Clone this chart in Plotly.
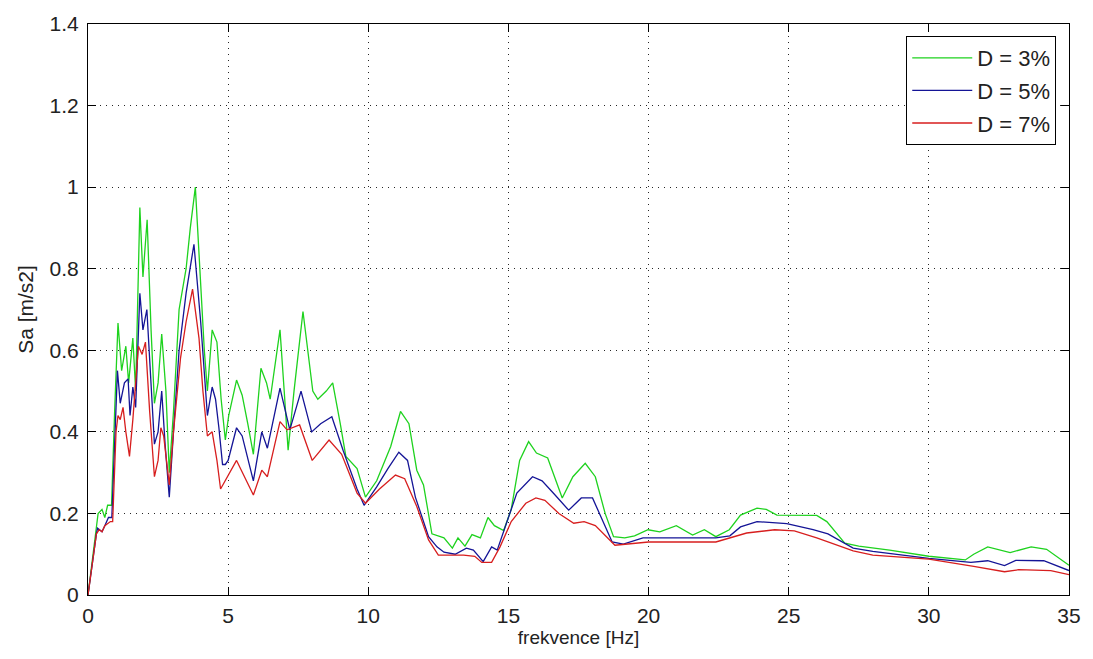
import plotly.graph_objects as go

# D = 3 %
freq_d3 = [0, 0.15, 0.3, 0.36, 0.5, 0.6, 0.7, 0.84, 0.95, 1.07, 1.2, 1.35, 1.45, 1.6, 1.7, 1.85, 1.96, 2.11,
           2.25, 2.37, 2.5, 2.63, 2.78, 2.9, 3.05, 3.25, 3.5, 3.65, 3.83, 4.0, 4.15, 4.26, 4.43, 4.6, 4.75,
           4.9, 5.02, 5.3, 5.5, 5.7, 5.9, 6.17, 6.37, 6.5, 6.85, 7.0, 7.14, 7.35, 7.67, 8.02, 8.2, 8.5,
           8.73, 9.0, 9.2, 9.6, 9.9, 10.3, 10.8, 11.15, 11.45, 11.73, 11.97, 12.27, 12.7, 13.0, 13.2,
           13.45, 13.7, 14.0, 14.27, 14.5, 14.83, 15.1, 15.4, 15.72, 16.0, 16.4, 16.92, 17.3, 17.74,
           18.1, 18.45, 18.75, 19.15, 19.5, 19.98, 20.4, 20.99, 21.57, 21.99, 22.4, 22.88, 23.28, 23.87,
           24.2, 24.58, 26.0, 26.36, 27.0, 27.5, 28.6, 30.0, 31.3, 31.6, 32.1, 32.9, 33.65, 34.2, 35.0]
sa_d3 = [0, 0.08, 0.17, 0.20, 0.21, 0.19, 0.22, 0.22, 0.45, 0.667, 0.55, 0.61, 0.52, 0.63, 0.5, 0.95, 0.78,
         0.92, 0.65, 0.47, 0.52, 0.64, 0.5, 0.30, 0.45, 0.70, 0.80, 0.90, 1.0, 0.78, 0.6, 0.50, 0.65, 0.62,
         0.48, 0.38, 0.44, 0.527, 0.49, 0.42, 0.345, 0.556, 0.52, 0.48, 0.65, 0.5, 0.355, 0.5, 0.695, 0.50,
         0.48, 0.5, 0.52, 0.42, 0.34, 0.31, 0.24, 0.28, 0.364, 0.45, 0.42, 0.306, 0.27, 0.15, 0.14, 0.115,
         0.14, 0.12, 0.148, 0.14, 0.19, 0.17, 0.158, 0.21, 0.33, 0.376, 0.348, 0.336, 0.238, 0.29, 0.323,
         0.29, 0.2, 0.143, 0.14, 0.145, 0.16, 0.155, 0.17, 0.147, 0.16, 0.143, 0.16, 0.196, 0.213, 0.21,
         0.196, 0.195, 0.18, 0.127, 0.12, 0.11, 0.095, 0.086, 0.10, 0.118, 0.104, 0.118, 0.112, 0.073]

# D = 5 %
freq_d5 = [0, 0.15, 0.3, 0.34, 0.5, 0.6, 0.73, 0.85, 0.95, 1.05, 1.15, 1.3, 1.43, 1.5, 1.6, 1.7, 1.85, 1.96,
           2.1, 2.25, 2.37, 2.5, 2.63, 2.75, 2.9, 3.05, 3.25, 3.5, 3.78, 4.02, 4.15, 4.26, 4.43, 4.55, 4.67,
           4.8, 4.9, 5.0, 5.3, 5.5, 5.9, 6.2, 6.4, 6.85, 7.2, 7.6, 7.98, 8.3, 8.7, 9.1, 9.6, 9.85, 10.3,
           10.7, 11.09, 11.4, 11.68, 12.15, 12.45, 12.7, 13.1, 13.5, 13.75, 14.1, 14.4, 14.6, 14.97, 15.3,
           15.86, 16.2, 16.6, 17.15, 17.6, 18.0, 18.7, 19.1, 19.8, 22.4, 22.9, 23.28, 23.87, 24.93, 25.87,
           26.4, 27.3, 28.0, 30.0, 31.5, 32.1, 32.7, 33.1, 34.1, 35.0]
sa_d5 = [0, 0.08, 0.15, 0.164, 0.155, 0.17, 0.19, 0.19, 0.38, 0.55, 0.47, 0.52, 0.53, 0.44, 0.51, 0.46, 0.74,
         0.65, 0.70, 0.5, 0.37, 0.40, 0.50, 0.37, 0.24, 0.40, 0.60, 0.74, 0.86, 0.67, 0.55, 0.44, 0.51, 0.48,
         0.41, 0.32, 0.32, 0.33, 0.41, 0.39, 0.28, 0.40, 0.36, 0.507, 0.405, 0.50, 0.40, 0.42, 0.437, 0.355,
         0.26, 0.22, 0.265, 0.31, 0.35, 0.33, 0.24, 0.143, 0.118, 0.105, 0.1, 0.115, 0.11, 0.082, 0.118,
         0.11, 0.184, 0.25, 0.29, 0.28, 0.25, 0.208, 0.238, 0.238, 0.13, 0.125, 0.14, 0.14, 0.145, 0.167,
         0.18, 0.175, 0.16, 0.15, 0.115, 0.107, 0.09, 0.08, 0.084, 0.072, 0.085, 0.084, 0.06]

# D = 7 %
freq_d7 = [0, 0.15, 0.3, 0.4, 0.5, 0.6, 0.8, 0.88, 1.0, 1.07, 1.15, 1.25, 1.35, 1.48, 1.6, 1.8, 1.93, 2.05,
           2.2, 2.37, 2.5, 2.6, 2.7, 2.9, 3.05, 3.3, 3.5, 3.73, 3.96, 4.1, 4.26, 4.43, 4.6, 4.73, 4.9, 5.3,
           5.9, 6.2, 6.4, 6.85, 7.1, 7.55, 8.0, 8.6, 9.05, 9.6, 9.9, 10.4, 10.97, 11.3, 11.73, 12.15, 12.5,
           13.4, 13.8, 14.05, 14.4, 14.7, 15.1, 15.62, 15.98, 16.3, 16.8, 17.33, 17.7, 18.1, 18.8, 19.2,
           20.0, 22.4, 22.9, 23.5, 24.5, 25.2, 26.0, 27.3, 28.0, 30.0, 31.6, 32.7, 33.2, 34.35, 35.0]
sa_d7 = [0, 0.08, 0.15, 0.16, 0.155, 0.17, 0.18, 0.18, 0.40, 0.44, 0.43, 0.46, 0.40, 0.34, 0.43, 0.61, 0.59,
         0.62, 0.45, 0.29, 0.33, 0.41, 0.39, 0.27, 0.40, 0.58, 0.67, 0.75, 0.63, 0.5, 0.39, 0.40, 0.33, 0.26,
         0.28, 0.33, 0.245, 0.306, 0.29, 0.425, 0.405, 0.417, 0.33, 0.38, 0.345, 0.25, 0.225, 0.26, 0.294,
         0.285, 0.217, 0.135, 0.098, 0.098, 0.095, 0.08, 0.08, 0.118, 0.18, 0.225, 0.238, 0.232, 0.2, 0.176,
         0.18, 0.17, 0.122, 0.125, 0.13, 0.13, 0.14, 0.152, 0.16, 0.157, 0.14, 0.108, 0.098, 0.088, 0.07,
         0.057, 0.062, 0.06, 0.05]

x_ticks = [0, 5, 10, 15, 20, 25, 30, 35]
y_ticks = [0, 0.2, 0.4, 0.6, 0.8, 1.0, 1.2, 1.4]
y_tick_labels = ["0", "0.2", "0.4", "0.6", "0.8", "1", "1.2", "1.4"]

series = [
    ("D = 3%", freq_d3, sa_d3, "rgb(30,210,30)"),
    ("D = 5%", freq_d5, sa_d5, "rgb(20,20,150)"),
    ("D = 7%", freq_d7, sa_d7, "rgb(215,30,30)"),
]

fig = go.Figure()
for i, (name, xs, ys, col) in enumerate(series):
    fig.add_trace(go.Scatter(x=xs, y=ys, mode="lines", name=name, legendgroup=f"g{i}",
                             line=dict(color=col, width=1.3)))

font_family = "Liberation Sans, Arial, sans-serif"
axis_common = dict(
    showline=True, linecolor="black", linewidth=1, mirror="allticks",
    ticks="inside", ticklen=8, tickcolor="black",
    showgrid=True, gridcolor="rgba(0,0,0,0.85)", gridwidth=1, griddash="1px,5px",
    zeroline=False, tickfont=dict(family=font_family, size=21, color="#222"),
)

fig.update_xaxes(range=[0, 35], tickvals=x_ticks, **axis_common, ticklabelstandoff=2,
                 title=dict(text="frekvence [Hz]", font=dict(family=font_family, size=19, color="#222"),
                            standoff=1))
fig.update_yaxes(range=[0, 1.4], tickvals=y_ticks, ticktext=y_tick_labels, **axis_common,
                 ticklabelstandoff=4,
                 title=dict(text="Sa [m/s2]", font=dict(family=font_family, size=21, color="#222"),
                            standoff=10))

fig.update_layout(
    width=1093, height=659,
    margin=dict(l=88, r=15, t=24, b=64),
    paper_bgcolor="white", plot_bgcolor="white",
    showlegend=True,
    legend=dict(x=0.987, y=0.979, xanchor="right", yanchor="top",
                bgcolor="white", bordercolor="black", borderwidth=1,
                font=dict(family=font_family, size=22, color="#222"),
                tracegroupgap=1, itemwidth=60),
)

fig.write_html("out.html")
